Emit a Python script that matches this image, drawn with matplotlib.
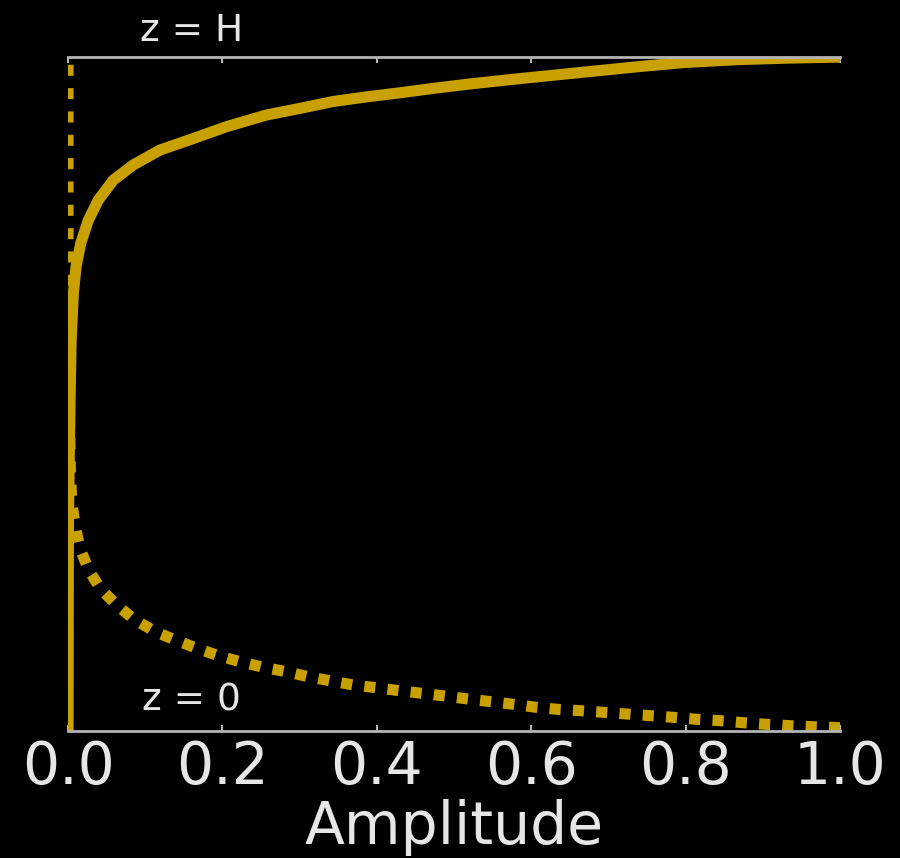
import matplotlib
matplotlib.use("Agg")
import matplotlib.pyplot as plt

# amplitud de cada modo contra la altura z/H
amp_sup = [1.0, 0.935, 0.870, 0.799, 0.741, 0.689, 0.602, 0.560, 0.516, 0.473,
           0.430, 0.387, 0.343, 0.301, 0.257, 0.206, 0.162, 0.119,
           0.0846, 0.0587, 0.0393, 0.0263, 0.0164, 0.0104, 0.0069, 0.004,
           0.0026, 0.0015, 0.0005, 0.0]
z_sup = [1.0, 0.9985, 0.9963, 0.992, 0.986, 0.980, 0.970, 0.965, 0.9595, 0.9535,
         0.947, 0.941, 0.934, 0.924, 0.914, 0.897, 0.879, 0.862,
         0.840, 0.8175, 0.788, 0.758, 0.7236, 0.689, 0.650, 0.58,
         0.49, 0.40, 0.30, 0.0]

amp_fondo = [1.0, 0.965, 0.935, 0.905, 0.875, 0.845, 0.814, 0.784, 0.666, 0.636,
             0.606, 0.577, 0.548, 0.518, 0.488, 0.458, 0.429, 0.399, 0.370,
             0.339, 0.311, 0.283, 0.253, 0.223, 0.195, 0.167, 0.139, 0.113,
             0.0855, 0.063, 0.0415, 0.0263, 0.0155, 0.009, 0.0048, 0.003,
             0.002, 0.001, 0.0, 0.0]
z_fondo = [0.005, 0.0064, 0.0079, 0.0099, 0.0123, 0.0153, 0.0174, 0.0203, 0.030,
           0.032, 0.0352, 0.0396, 0.0435, 0.0475, 0.052, 0.056, 0.0598, 0.0643,
           0.0682, 0.0746, 0.0806, 0.088, 0.0945, 0.1028, 0.1117, 0.1227, 0.135,
           0.1473, 0.1657, 0.187, 0.2117, 0.240, 0.271, 0.3056, 0.340, 0.39,
           0.45, 0.55, 0.65, 1.0]

xticks = [0.0, 0.2, 0.4, 0.6, 0.8, 1.0]

oro = "#C8A000"
gris = "#b4b4b4"
blanco = "#e6e6e6"

fig = plt.figure(figsize=(9, 8.58), dpi=100, facecolor="black")
ax = fig.add_axes([0.0756, 0.148, 0.8578, 0.7855], facecolor="black")

ax.plot(amp_sup, z_sup, color=oro, lw=8, solid_capstyle="butt",
        solid_joinstyle="round")
ax.plot(amp_fondo, z_fondo, color=oro, lw=8, linestyle=(0, (1, 1.1)),
        dash_capstyle="butt")

ax.set_xlim(0, 1)
ax.set_ylim(0, 1)

for lado in ["left", "right"]:
    ax.spines[lado].set_visible(False)
for lado in ["top", "bottom"]:
    ax.spines[lado].set_color(gris)
    ax.spines[lado].set_linewidth(2)
    ax.spines[lado].set_zorder(3)

ax.set_yticks([])
ax.set_xticks(xticks)
ax.set_xticklabels([f"{t:.1f}" for t in xticks])
ax.tick_params(axis="x", direction="in", top=True, length=4, width=1.5,
               color=gris, labelsize=42, labelcolor=blanco, pad=6)
ax.set_xlabel("Amplitude", fontsize=42, color=blanco, labelpad=2)

ax.text(0.16, 1.012, "z = H", fontsize=27, color=blanco, ha="center",
        va="bottom", transform=ax.transAxes)
ax.text(0.16, 0.018, "z = 0", fontsize=27, color=blanco, ha="center",
        va="bottom", transform=ax.transAxes)

fig.savefig("out.png", dpi=100, facecolor="black")
